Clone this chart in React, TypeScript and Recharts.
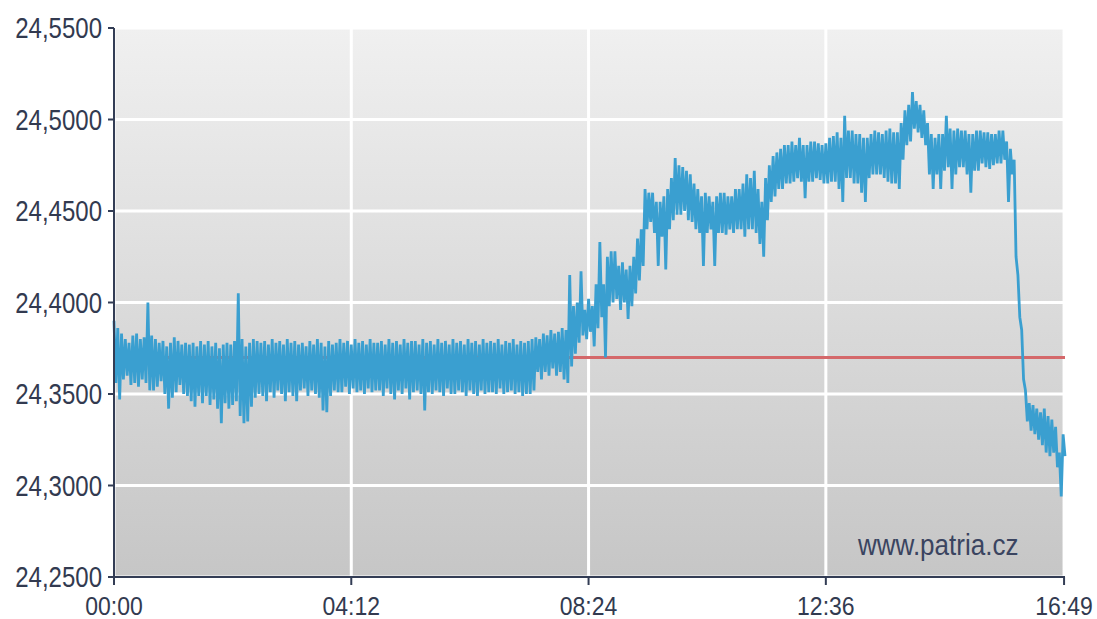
import React from 'react';
import { LineChart, Line, XAxis, YAxis, CartesianGrid } from 'recharts';

// minutes between two samples; each sample has a high and a low tick
const STEP = 4;

// highest price in each 4 minute slot from 00:00
const highs: number[] = [
  24.390, 24.386, 24.383, 24.380, 24.378, 24.382, 24.383, 24.380, 24.381, 24.400,
  24.382, 24.380, 24.378, 24.379, 24.376, 24.378, 24.381, 24.379, 24.377, 24.378,
  24.377, 24.378, 24.376, 24.379, 24.377, 24.379, 24.376, 24.378, 24.375, 24.377,
  24.378, 24.377, 24.379, 24.405, 24.380, 24.376, 24.378, 24.380, 24.379, 24.378,
  24.379, 24.377, 24.380, 24.378, 24.379, 24.377, 24.380, 24.378, 24.379, 24.377,
  24.378, 24.376, 24.379, 24.377, 24.380, 24.378, 24.376, 24.379, 24.377, 24.378,
  24.380, 24.378, 24.379, 24.377, 24.380, 24.378, 24.379, 24.377, 24.380, 24.378,
  24.378, 24.379, 24.377, 24.380, 24.378, 24.379, 24.377, 24.380, 24.378, 24.379,
  24.379, 24.377, 24.380, 24.378, 24.379, 24.377, 24.380, 24.378, 24.379, 24.377,
  24.380, 24.378, 24.379, 24.377, 24.380, 24.378, 24.379, 24.377, 24.380, 24.378,
  24.379, 24.378, 24.380, 24.377, 24.379, 24.378, 24.380, 24.377, 24.379, 24.378,
  24.379, 24.380, 24.381, 24.380, 24.383, 24.382, 24.385, 24.383, 24.384, 24.386,
  24.385, 24.415, 24.398, 24.400, 24.417, 24.396, 24.402, 24.398, 24.410, 24.433,
  24.410, 24.425, 24.428, 24.428, 24.420, 24.422, 24.418, 24.420, 24.425, 24.435,
  24.440, 24.462, 24.460, 24.460, 24.455, 24.455, 24.458, 24.462, 24.468, 24.479,
  24.475, 24.474, 24.472, 24.470, 24.465, 24.462, 24.458, 24.460, 24.458, 24.455,
  24.458, 24.460, 24.460, 24.458, 24.458, 24.462, 24.462, 24.465, 24.470, 24.468,
  24.472, 24.462, 24.455, 24.468, 24.475, 24.480, 24.482, 24.484, 24.486, 24.486,
  24.488, 24.486, 24.490, 24.486, 24.486, 24.488, 24.488, 24.487, 24.486, 24.487,
  24.490, 24.491, 24.493, 24.490, 24.502, 24.494, 24.494, 24.492, 24.492, 24.490,
  24.490, 24.492, 24.494, 24.493, 24.492, 24.494, 24.495, 24.493, 24.493, 24.498,
  24.505, 24.508, 24.515, 24.510, 24.508, 24.505, 24.498, 24.492, 24.490, 24.492,
  24.492, 24.502, 24.495, 24.494, 24.495, 24.494, 24.494, 24.492, 24.492, 24.494,
  24.494, 24.493, 24.493, 24.492, 24.492, 24.494, 24.494, 24.488, 24.484, 24.478,
  24.415, 24.385, 24.352, 24.345, 24.344, 24.342, 24.340, 24.342, 24.338, 24.336,
  24.332, 24.318, 24.328,
];

// lowest price in the same slots
const lows: number[] = [
  24.356, 24.347, 24.358, 24.360, 24.355, 24.356, 24.354, 24.358, 24.356, 24.352,
  24.352, 24.354, 24.357, 24.350, 24.342, 24.348, 24.351, 24.355, 24.350, 24.349,
  24.346, 24.343, 24.349, 24.345, 24.349, 24.344, 24.347, 24.342, 24.334, 24.345,
  24.342, 24.344, 24.346, 24.338, 24.334, 24.335, 24.343, 24.348, 24.350, 24.349,
  24.346, 24.351, 24.348, 24.352, 24.350, 24.346, 24.351, 24.349, 24.346, 24.352,
  24.353, 24.349, 24.352, 24.350, 24.348, 24.341, 24.340, 24.349, 24.352, 24.351,
  24.351, 24.354, 24.350, 24.353, 24.351, 24.352, 24.350, 24.353, 24.351, 24.352,
  24.352, 24.349, 24.353, 24.350, 24.347, 24.352, 24.350, 24.353, 24.347, 24.351,
  24.352, 24.350, 24.341, 24.351, 24.350, 24.352, 24.351, 24.349, 24.353, 24.350,
  24.350, 24.352, 24.351, 24.349, 24.352, 24.350, 24.349, 24.352, 24.350, 24.351,
  24.351, 24.350, 24.353, 24.350, 24.351, 24.352, 24.350, 24.351, 24.349, 24.350,
  24.350, 24.352, 24.362, 24.358, 24.362, 24.360, 24.364, 24.360, 24.362, 24.358,
  24.356, 24.365, 24.372, 24.378, 24.382, 24.380, 24.384, 24.376, 24.386, 24.392,
  24.370, 24.398, 24.400, 24.402, 24.396, 24.400, 24.391, 24.398, 24.405, 24.412,
  24.420, 24.440, 24.444, 24.438, 24.420, 24.436, 24.418, 24.440, 24.445, 24.448,
  24.448, 24.450, 24.445, 24.444, 24.440, 24.438, 24.420, 24.438, 24.440, 24.420,
  24.438, 24.438, 24.437, 24.440, 24.438, 24.440, 24.440, 24.436, 24.440, 24.440,
  24.438, 24.432, 24.425, 24.445, 24.455, 24.458, 24.462, 24.462, 24.465, 24.465,
  24.466, 24.468, 24.466, 24.457, 24.466, 24.466, 24.468, 24.467, 24.465, 24.465,
  24.466, 24.466, 24.462, 24.455, 24.468, 24.468, 24.465, 24.465, 24.460, 24.455,
  24.468, 24.470, 24.470, 24.470, 24.468, 24.466, 24.465, 24.465, 24.462, 24.478,
  24.486, 24.488, 24.495, 24.493, 24.490, 24.486, 24.470, 24.462, 24.470, 24.462,
  24.472, 24.474, 24.462, 24.470, 24.474, 24.474, 24.470, 24.460, 24.472, 24.472,
  24.476, 24.474, 24.473, 24.475, 24.476, 24.476, 24.478, 24.455, 24.470, 24.425,
  24.392, 24.358, 24.335, 24.330, 24.328, 24.325, 24.322, 24.318, 24.316, 24.318,
  24.310, 24.294, 24.316,
];

const previousClose = 24.37;
const yTicks = [24.25, 24.3, 24.35, 24.4, 24.45, 24.5, 24.55];
const xTicks = [0, 252, 504, 756, 1009];

const data: { t: number; price: number; ref: number }[] = [];
highs.forEach((h, i) => {
  data.push({ t: i * STEP, price: h, ref: previousClose });
  data.push({ t: i * STEP + STEP / 2, price: lows[i], ref: previousClose });
});

const fmtTime = (m: number) => {
  const h = Math.floor(m / 60);
  const mm = m % 60;
  return `${String(h).padStart(2, '0')}:${String(mm).padStart(2, '0')}`;
};

const textColor = '#323a50';
const font = "'Liberation Sans', Arial, sans-serif";

const YTick = (props: any) => {
  const { x, y, payload } = props;
  return (
    <g transform={`translate(${x},${y})`}>
      <text textAnchor="end" dy="0.36em" fontSize={24} fill={textColor}
        fontFamily={font} transform="scale(1,1.2)">
        {payload.value.toFixed(4).replace('.', ',')}
      </text>
    </g>
  );
};

const XTick = (props: any) => {
  const { x, y, payload } = props;
  return (
    <g transform={`translate(${x},${y})`}>
      <text textAnchor="middle" dy="1.05em" fontSize={23} fill={textColor}
        fontFamily={font} transform="scale(1,1.15)">
        {fmtTime(payload.value)}
      </text>
    </g>
  );
};

export default function App() {
  return (
    <div style={{ position: 'absolute', left: 0, top: 0, width: 1097, height: 619, background: '#fff' }}>
      <LineChart width={1097} height={619} data={data}
        margin={{ top: 28, right: 32, bottom: 0, left: 0 }}>
        <defs>
          <linearGradient id="plotBg" x1="0" y1="0" x2="0" y2="1">
            <stop offset="0%" stopColor="#f0f0f0" />
            <stop offset="100%" stopColor="#c6c6c6" />
          </linearGradient>
        </defs>
        <CartesianGrid fill="url(#plotBg)" stroke="#ffffff" strokeWidth={3} />
        <XAxis dataKey="t" type="number" domain={[0, 1010]} ticks={xTicks} height={42}
          tick={<XTick />} tickSize={8} stroke="#333d55" strokeWidth={2}
          tickLine={{ stroke: '#333d55', strokeWidth: 2 }} interval={0} />
        <YAxis type="number" domain={[24.25, 24.55]} ticks={yTicks} width={114}
          tick={<YTick />} tickSize={6} tickMargin={6} stroke="#333d55" strokeWidth={2}
          tickLine={{ stroke: '#333d55', strokeWidth: 2 }} interval={0} />
        <Line type="linear" dataKey="ref" stroke="#d4686a" strokeWidth={3}
          dot={false} activeDot={false} isAnimationActive={false} />
        <Line type="linear" dataKey="price" stroke="#3a9fd0" strokeWidth={2.8}
          strokeLinejoin="miter" dot={false} isAnimationActive={false} />
      </LineChart>
      <div style={{
        position: 'absolute', left: 858, top: 527, fontFamily: font,
        fontSize: 26, color: '#3a4460', transform: 'scaleY(1.15)', transformOrigin: 'left top',
        whiteSpace: 'nowrap'
      }}>
        www.patria.cz
      </div>
    </div>
  );
}
